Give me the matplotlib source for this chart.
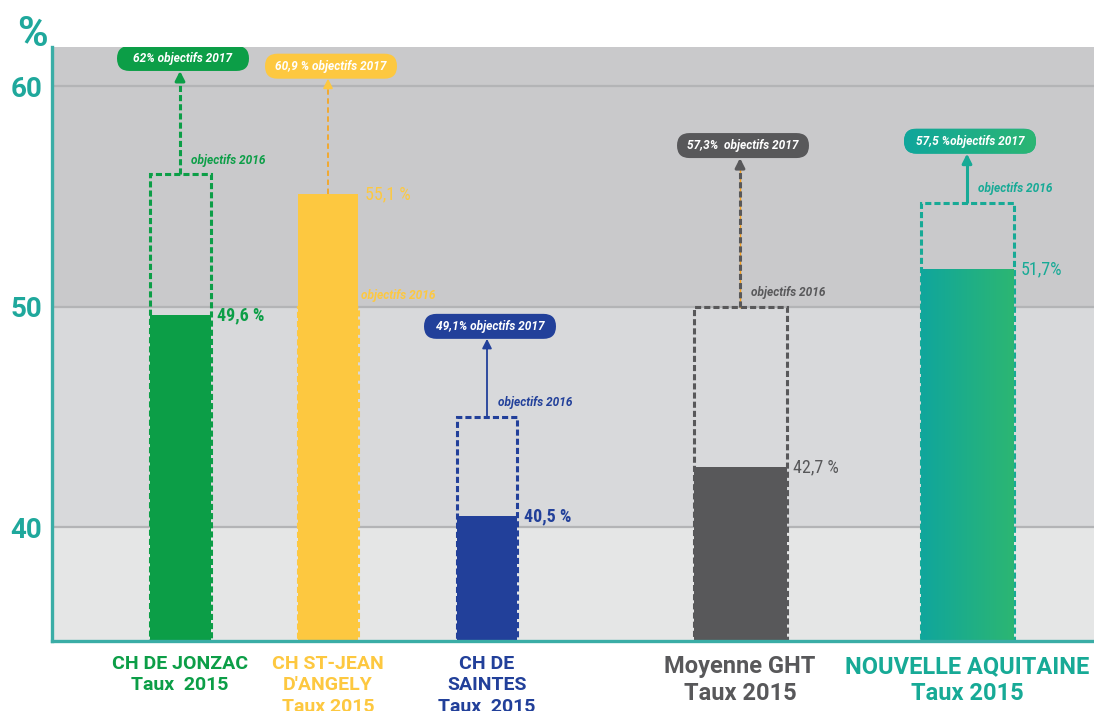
import matplotlib
matplotlib.use('Agg')
import matplotlib.pyplot as plt
from matplotlib.patches import Rectangle, FancyBboxPatch
from matplotlib.colors import LinearSegmentedColormap
import numpy as np

# ---------------- data ----------------
categories = ["CH DE JONZAC\nTaux  2015", "CH ST-JEAN\nD'ANGELY\nTaux 2015",
              "CH DE\nSAINTES\nTaux  2015", "Moyenne GHT\nTaux 2015",
              "NOUVELLE AQUITAINE\nTaux 2015"]
taux_2015 = [49.6, 55.1, 40.5, 42.7, 51.7]
objectifs_2016 = [56.0, 50.0, 45.0, 50.0, 54.7]
objectifs_2017 = [62.0, 60.9, 49.1, 57.3, 57.5]
value_labels = ["49,6 %", "55,1 %", "40,5 %", "42,7 %", "51,7%"]
pill_labels = ["62% objectifs 2017", "60,9 % objectifs 2017", "49,1% objectifs 2017",
               "57,3%  objectifs 2017", "57,5 %objectifs 2017"]
yticks = [40, 50, 60]
ytick_labels = ["40", "50", "60"]

# ---------------- layout / style ----------------
xpos = [128, 276, 435, 688, 915]       # bar centres (px from axis)
widths = [61, 60, 60, 93, 93]
colors = ['#0c9e47', '#fdc840', '#22409a', '#58585a', '#17aa96']
label_sizes = [14, 14, 14, 17, 17]
value_weights = ['bold', 'normal', 'bold', 'normal', 'normal']
TEAL = '#3aada6'
NARROW = ['Roboto Condensed', 'IBM Plex Sans Condensed', 'DejaVu Sans']
ROBOTO = ['Roboto', 'DejaVu Sans']
YMIN, YMAX = 34.83, 61.77
PX_PER_Y = 594 / (YMAX - YMIN)
PILL_W, PILL_H = 132, 25 / PX_PER_Y

fig = plt.figure(figsize=(10.94, 7.11), dpi=100)
ax = fig.add_axes([52 / 1094, 1 - 641 / 711, 1 - 52 / 1094, (641 - 47) / 711])

# background bands
ax.axhspan(YMIN, 40, color='#e5e6e6', zorder=0, lw=0)
ax.axhspan(40, 50, color='#d8d9db', zorder=0, lw=0)
ax.axhspan(50, YMAX, color='#c9c9cb', zorder=0, lw=0)
for t in yticks:
    ax.axhline(t, color='#b3b4b6', lw=1.6, zorder=0.5)

# dashed objective-2016 boxes
for x, w, o, c in zip(xpos, widths, objectifs_2016, colors):
    ax.add_patch(Rectangle((x - w / 2, YMIN), w, o - YMIN, fill=False, ec=c,
                           lw=2.2, ls=(0, (2, 1)), zorder=2))

# bars
bars = ax.bar(xpos, [v - YMIN for v in taux_2015], width=widths, bottom=YMIN,
              color=colors, zorder=3, lw=0)

grad = LinearSegmentedColormap.from_list('g', ['#10a69c', '#2cb673'])
b = bars[-1]
im = ax.imshow(np.linspace(0, 1, 100).reshape(1, -1), cmap=grad, aspect='auto',
               extent=(b.get_x(), b.get_x() + b.get_width(), YMIN, taux_2015[-1]),
               zorder=3.1)
im.set_clip_path(b)

# value labels
for x, w, v, s, c, fw in zip(xpos, widths, taux_2015, value_labels, colors, value_weights):
    ax.annotate(s, (x + w / 2, v), xytext=(5, 0), textcoords='offset points',
                ha='left', va='center', fontsize=13, color=c, fontweight=fw,
                family=NARROW, zorder=5)

# arrows + pills
arrow_styles = [
    dict(ls=(0, (2, 1)), lw=2.2, under=None),
    dict(ls=(0, (3, 2)), lw=1.3, under=None),
    dict(ls='-', lw=1.3, under=None),
    dict(ls=(0, (2, 1)), lw=2.2, under='#f5a01e'),
    dict(ls='-', lw=2.2, under=None),
]
line_colors = ['#0c9e47', '#f5a623', '#22409a', '#58585a', '#17aa96']
for i, (x, w, v, o16, o17, c) in enumerate(zip(xpos, widths, taux_2015,
                                                  objectifs_2016, objectifs_2017, colors)):
    st = arrow_styles[i]
    base = max(v, o16)
    pill_y = min(o17, 61.25)
    tip = pill_y - PILL_H / 2
    if st['under']:
        ax.plot([x, x], [base, tip - 0.3], color=st['under'], lw=1.0, zorder=4)
    ax.plot([x, x], [base, tip - 0.3], color=line_colors[i], lw=st['lw'],
            ls=st['ls'], zorder=4.1, solid_capstyle='butt')
    ax.annotate('', xy=(x, tip), xytext=(x, tip - 0.45),
                arrowprops=dict(arrowstyle='-|>,head_length=0.55,head_width=0.28',
                                color=c, lw=st['lw'], shrinkA=0, shrinkB=0), zorder=4.2)
    px = x + 3
    pill = FancyBboxPatch((px - PILL_W / 2, pill_y - PILL_H / 2), PILL_W, PILL_H,
                          boxstyle='round,pad=0,rounding_size=12.5',
                          mutation_aspect=1 / PX_PER_Y, fc=c, ec='none', zorder=5.5)
    ax.add_patch(pill)
    if i == len(xpos) - 1:
        gim = ax.imshow(np.linspace(0, 1, 100).reshape(1, -1), cmap=grad, aspect='auto',
                        extent=(px - PILL_W / 2, px + PILL_W / 2,
                                pill_y - PILL_H / 2, pill_y + PILL_H / 2), zorder=5.6)
        gim.set_clip_path(pill)
    ax.text(px, pill_y, pill_labels[i], ha='center', va='center', fontsize=8.6,
            color='white', fontweight='bold', style='italic', family=ROBOTO, zorder=6)
    # "objectifs 2016" label
    if v > o16:
        ax.annotate('objectifs 2016', (x + w / 2, o16), xytext=(2, 8),
                    textcoords='offset points', ha='left', va='center', fontsize=8.6,
                    color=c, fontweight='bold', style='italic', family=ROBOTO, zorder=6)
    else:
        ax.annotate('objectifs 2016', (x, o16), xytext=(8, 10),
                    textcoords='offset points', ha='left', va='center', fontsize=8.6,
                    color=c, fontweight='bold', style='italic', family=ROBOTO, zorder=6)

ax.set_xlim(0, 1042)
ax.set_ylim(YMIN, YMAX)

# axes styling
for sp in ['top', 'right']:
    ax.spines[sp].set_visible(False)
for sp in ['left', 'bottom']:
    ax.spines[sp].set_color(TEAL)
    ax.spines[sp].set_linewidth(2.4)
    ax.spines[sp].set_zorder(7)

ax.set_yticks(yticks, ytick_labels)
ax.tick_params(axis='y', length=0, pad=7, labelcolor='#1fa89c', labelsize=20)
for tl in ax.get_yticklabels():
    tl.set_fontweight('bold')
    tl.set_family(ROBOTO)

ax.set_xticks(xpos, categories)
ax.tick_params(axis='x', length=0, pad=10)
for tl, c, fs in zip(ax.get_xticklabels(), colors, label_sizes):
    tl.set_color(c)
    tl.set_fontsize(fs)
    tl.set_fontweight('bold')
    tl.set_family(ROBOTO)
    tl.set_linespacing(1.25)

fig.text(32 / 1094, 1 - 35 / 711, '%', ha='center', va='center', fontsize=30,
         color='#1fa89c', fontweight='bold', family=ROBOTO)

fig.savefig('out.png', dpi=100)
